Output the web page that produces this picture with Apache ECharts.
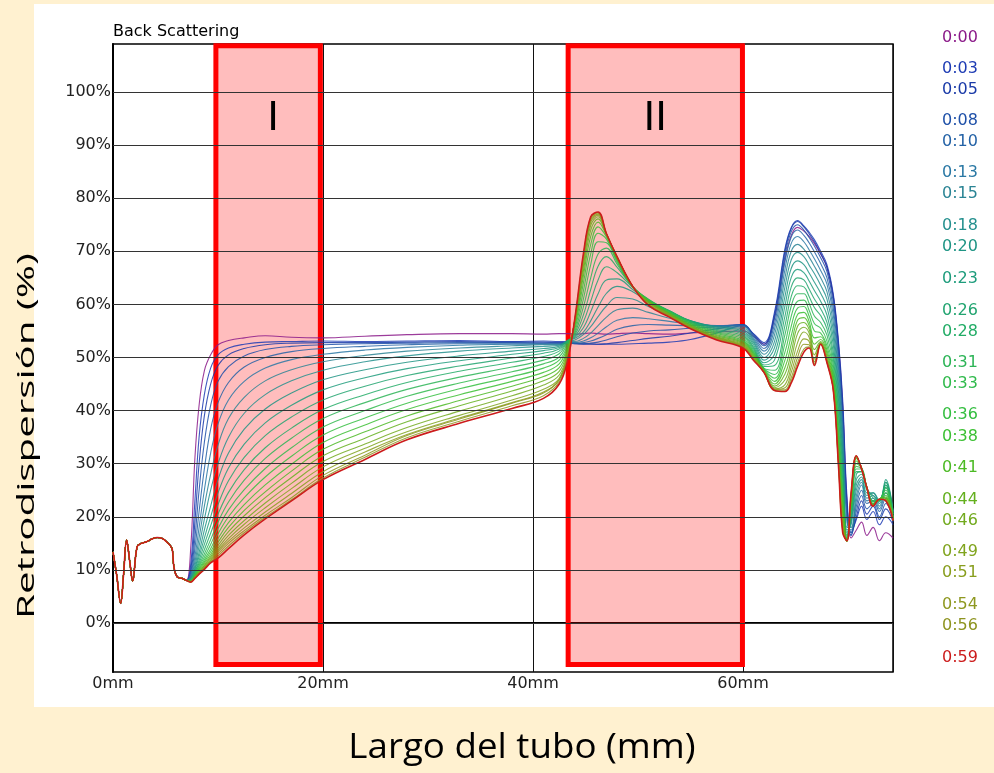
<!DOCTYPE html>
<html><head><meta charset="utf-8">
<script src="https://cdn.jsdelivr.net/npm/echarts@6/dist/echarts.min.js"></script>
<style>html,body{margin:0;padding:0;background:#FFF1D0;} #c{width:994px;height:773px;}</style>
</head><body><div id="c"></div>
<script>
// ---------- DATA ----------
const times = ['0:00','0:03','0:05','0:08','0:10','0:13','0:15','0:18','0:20','0:23','0:26','0:28',
               '0:31','0:33','0:36','0:38','0:41','0:44','0:46','0:49','0:51','0:54','0:56','0:59'];
const lineColors = ['#8B1A89','#1E3CB4','#1A3AA8','#1E50A8','#2462A6','#2A78A4','#2A8494','#24908E',
                    '#1E9484','#1E9C7C','#22A470','#22AC66','#2CB456','#30BA4C','#34BE40','#3CC034',
                    '#4CBA24','#64B01E','#72AA1E','#80A41E','#889E1E','#8E9820','#8E9420','#CC1C1C'];
// shared start of every profile (0 - 7 mm)
const baseX = [0, 0.35, 0.73, 1.0, 1.3, 1.6, 1.87, 2.3, 2.7, 3.2, 3.7, 4.2, 4.7, 5.1, 5.45, 5.65, 5.8, 6.1, 6.6, 7.0];
const baseY = [13.4, 9.0, 3.7, 9.0, 15.6, 11.5, 7.9, 14.4, 15.0, 15.3, 15.8, 16.1, 15.9, 15.3, 14.6, 13.8, 10.6, 8.7, 8.4, 8.0];
// sample positions (mm) of the three zones
const gridI = [7.4, 7.8, 8.2, 8.7, 9.3, 10, 11, 12.5, 14.5, 17, 20, 24, 28, 33, 38, 41, 42.5];
const gridII = [43.3, 44, 44.8, 45.5, 46.2, 47, 48, 49.5, 51, 53, 55, 57.5, 60];
const gridIII = [61, 62, 63, 64, 64.6, 65.2, 65.8, 66.3, 66.8, 67.4, 68, 68.6, 69.1, 69.5, 69.9, 70.3, 70.8, 71.3, 71.8, 72.4, 73, 73.6, 74.3];
// backscattering (%) per time, zone I
const frontI = [
 [14, 31, 41, 47.5, 50.5, 52.4, 53.2, 53.7, 54.1, 53.8, 53.7, 54.0, 54.3, 54.5, 54.5, 54.4, 54.5],
 [11, 23, 35, 43, 48, 50.5, 51.8, 52.5, 52.9, 53.0, 53.1, 53.0, 53.1, 53.2, 53.0, 53.1, 53.0],
 [10, 19, 30, 39, 45, 48.5, 50.5, 51.7, 52.4, 52.7, 52.8, 52.8, 52.9, 53.0, 52.9, 52.9, 52.8],
 [9.5, 16, 25, 34, 41, 45.5, 48.3, 50.3, 51.5, 52.1, 52.4, 52.6, 52.7, 52.8, 52.8, 52.7, 52.7],
 [9, 14, 21, 29, 36.5, 41.5, 45.3, 48.2, 50.0, 51.1, 51.7, 52.1, 52.4, 52.6, 52.6, 52.6, 52.6],
 [8.8, 12.5, 18, 25, 32, 37.5, 42, 45.5, 48.0, 49.6, 50.6, 51.4, 51.9, 52.3, 52.5, 52.5, 52.5],
 [8.6, 11.5, 16, 22, 28, 33.5, 38.5, 42.5, 45.6, 47.7, 49.2, 50.4, 51.2, 51.8, 52.2, 52.4, 52.4],
 [8.5, 10.8, 14.5, 19.5, 25, 30, 35, 39.5, 43.0, 45.6, 47.6, 49.2, 50.3, 51.2, 51.8, 52.1, 52.3],
 [8.4, 10.3, 13.3, 17.5, 22, 27, 32, 36.5, 40.3, 43.3, 45.8, 47.7, 49.1, 50.3, 51.2, 51.7, 52.1],
 [8.3, 10, 12.5, 16, 20, 24.5, 29.2, 33.7, 37.7, 41.0, 43.9, 46.2, 47.9, 49.4, 50.6, 51.3, 51.9],
 [8.2, 9.7, 11.8, 14.8, 18.3, 22.3, 26.8, 31.2, 35.3, 38.8, 42.0, 44.6, 46.6, 48.4, 49.9, 50.8, 51.6],
 [8.1, 9.5, 11.3, 13.8, 16.9, 20.5, 24.6, 28.9, 33.0, 36.7, 40.2, 43.0, 45.3, 47.4, 49.1, 50.2, 51.2],
 [8.0, 9.3, 10.9, 13.0, 15.7, 19.0, 22.8, 26.9, 31.0, 34.8, 38.5, 41.5, 44.0, 46.3, 48.2, 49.5, 50.7],
 [8.0, 9.1, 10.6, 12.4, 14.8, 17.8, 21.3, 25.1, 29.1, 33.0, 36.9, 40.0, 42.7, 45.2, 47.3, 48.8, 50.1],
 [7.9, 9.0, 10.3, 11.9, 14.0, 16.8, 20.0, 23.6, 27.5, 31.4, 35.4, 38.6, 41.4, 44.1, 46.4, 48.0, 49.5],
 [7.9, 8.9, 10.1, 11.5, 13.4, 15.9, 18.9, 22.3, 26.0, 29.9, 34.0, 37.3, 40.2, 43.0, 45.5, 47.2, 48.8],
 [7.9, 8.8, 9.9, 11.2, 12.9, 15.2, 18.0, 21.2, 24.7, 28.6, 32.7, 36.0, 39.0, 41.9, 44.6, 46.4, 48.1],
 [7.8, 8.7, 9.7, 10.9, 12.5, 14.6, 17.2, 20.2, 23.6, 27.4, 31.5, 34.8, 37.9, 40.9, 43.7, 45.6, 47.4],
 [7.8, 8.6, 9.6, 10.7, 12.2, 14.1, 16.5, 19.3, 22.6, 26.3, 30.4, 33.7, 36.8, 39.9, 42.8, 44.8, 46.7],
 [7.8, 8.6, 9.5, 10.5, 11.9, 13.7, 15.9, 18.6, 21.7, 25.3, 29.4, 32.9, 36.0, 39.1, 42.0, 44.0, 46.1],
 [7.8, 8.5, 9.4, 10.4, 11.7, 13.4, 15.4, 17.9, 20.9, 24.4, 28.5, 32.2, 35.5, 38.6, 41.5, 43.5, 45.8],
 [7.7, 8.5, 9.3, 10.3, 11.5, 13.0, 15.0, 17.4, 20.3, 23.6, 27.8, 31.6, 35.3, 38.4, 41.4, 43.3, 45.8],
 [7.7, 8.4, 9.2, 10.2, 11.4, 12.6, 14.5, 17.0, 19.9, 23.2, 27.3, 31.2, 34.9, 38.0, 40.9, 42.8, 45.4],
 [7.7, 8.4, 9.2, 10.1, 11.3, 12.2, 14.0, 16.6, 19.6, 23.0, 27.0, 30.8, 34.5, 37.6, 40.4, 42.3, 45.0]
];
// zone II
const peakII = [
 [54.5, 54.4, 54.5, 54.6, 54.5, 54.4, 54.5, 54.6, 54.5, 54.4, 54.6, 54.8, 55.0],
 [53.0, 52.7, 52.6, 52.6, 52.5, 52.5, 52.5, 52.6, 52.7, 52.9, 53.4, 54.6, 56.0],
 [52.8, 52.6, 52.5, 52.5, 52.5, 52.6, 52.8, 53.2, 53.6, 54.0, 54.6, 55.4, 56.2],
 [52.8, 52.6, 52.6, 52.7, 52.9, 53.3, 53.9, 54.6, 55.0, 55.2, 55.5, 55.8, 56.2],
 [52.8, 52.7, 52.8, 53.1, 53.6, 54.3, 55.3, 56.0, 56.2, 56.1, 56.0, 56.0, 56.1],
 [52.9, 52.8, 53.1, 53.7, 54.6, 55.8, 57.0, 57.5, 57.3, 56.8, 56.3, 56.0, 55.9],
 [53.0, 53.0, 53.6, 54.6, 56.0, 57.6, 59.0, 59.3, 58.5, 57.4, 56.6, 55.9, 55.6],
 [53.1, 53.3, 54.3, 55.8, 57.7, 59.7, 61.3, 61.0, 59.6, 58.0, 56.8, 55.8, 55.3],
 [53.2, 53.6, 54.8, 56.9, 59.5, 62.1, 63.4, 62.4, 60.4, 58.4, 56.9, 55.7, 55.0],
 [53.2, 53.8, 55.6, 58.6, 62.0, 64.6, 64.8, 62.8, 60.6, 58.7, 56.9, 55.5, 54.7],
 [53.2, 54.0, 56.7, 60.6, 64.6, 67.1, 66.0, 63.2, 60.7, 58.8, 56.9, 55.3, 54.4],
 [53.1, 54.3, 58.0, 62.8, 67.2, 69.0, 67.0, 63.3, 60.9, 58.8, 56.8, 55.1, 54.1],
 [53.0, 54.6, 59.5, 65.0, 69.5, 70.6, 67.6, 63.3, 61.0, 58.7, 56.7, 54.9, 53.8],
 [52.7, 55.0, 61.0, 67.5, 71.8, 71.6, 68.0, 63.3, 60.9, 58.6, 56.5, 54.7, 53.5],
 [52.3, 55.5, 62.5, 69.5, 73.4, 72.3, 68.3, 63.3, 60.8, 58.5, 56.4, 54.5, 53.2],
 [52.0, 56.0, 64.0, 71.3, 74.6, 72.7, 68.5, 63.3, 60.7, 58.4, 56.2, 54.3, 53.0],
 [51.6, 56.4, 65.3, 72.8, 75.5, 73.0, 68.7, 63.3, 60.6, 58.3, 56.1, 54.1, 52.8],
 [51.3, 56.7, 66.3, 74.0, 76.1, 73.1, 68.8, 63.3, 60.5, 58.2, 56.0, 53.9, 52.6],
 [51.0, 56.9, 67.2, 74.9, 76.5, 73.2, 68.9, 63.4, 60.4, 58.1, 55.9, 53.8, 52.4],
 [50.7, 57.1, 67.9, 75.5, 76.8, 73.2, 68.9, 63.4, 60.3, 58.0, 55.8, 53.7, 52.2],
 [50.4, 57.2, 68.5, 75.9, 77.0, 73.2, 69.0, 63.4, 60.1, 57.9, 55.7, 53.6, 52.1],
 [50.1, 57.3, 68.9, 76.2, 77.2, 73.3, 69.0, 63.4, 60.0, 57.8, 55.6, 53.5, 52.0],
 [49.8, 57.4, 69.2, 76.4, 77.3, 73.3, 69.0, 63.4, 59.9, 57.7, 55.5, 53.4, 51.9],
 [49.5, 57.5, 69.5, 76.5, 77.4, 73.3, 69.0, 63.4, 59.8, 57.6, 55.4, 53.3, 51.8]
];
// zone III (tube top)
const tailIII = [
 [54.0, 52.5, 57.5, 68.5, 73.0, 74.5, 73.8, 72.8, 71.5, 69.5, 67.0, 61.5, 52.5, 41.0, 23.0, 16.0, 17.5, 19.0, 16.5, 18.0, 15.5, 17.0, 16.0],
 [54.5, 52.8, 58.5, 70.5, 74.5, 75.8, 74.8, 73.6, 72.2, 70.0, 67.5, 62.0, 53.0, 42.0, 24.0, 17.0, 19.5, 22.0, 19.5, 21.0, 18.5, 20.0, 18.5],
 [54.4, 52.5, 58.0, 70.0, 74.3, 75.6, 74.6, 73.3, 71.8, 69.6, 67.0, 61.5, 52.0, 40.5, 22.5, 16.5, 20.0, 23.0, 20.5, 22.0, 19.5, 21.5, 19.0],
 [54.2, 52.2, 57.3, 69.2, 73.7, 75.0, 74.0, 72.6, 71.0, 68.8, 66.2, 60.5, 50.8, 39.0, 21.0, 16.5, 21.0, 24.0, 21.5, 22.5, 20.0, 22.5, 19.5],
 [54.0, 51.7, 56.3, 68.0, 72.7, 74.0, 73.0, 71.6, 69.9, 67.7, 65.0, 59.3, 49.5, 37.5, 20.0, 17.0, 22.0, 25.0, 22.5, 23.0, 21.0, 23.5, 20.0],
 [53.7, 51.2, 55.3, 66.6, 71.5, 72.8, 71.8, 70.3, 68.6, 66.4, 63.8, 58.0, 48.0, 36.0, 19.0, 17.5, 23.0, 26.0, 23.0, 23.5, 21.5, 24.5, 20.5],
 [53.4, 50.6, 54.2, 65.0, 70.0, 71.3, 70.4, 68.9, 67.2, 65.0, 62.4, 56.6, 46.5, 34.5, 18.0, 18.0, 24.0, 26.5, 23.5, 24.0, 22.0, 25.5, 21.0],
 [53.1, 50.0, 53.0, 63.3, 68.4, 69.8, 69.0, 67.4, 65.8, 63.6, 61.0, 55.2, 45.0, 33.0, 17.5, 18.5, 25.0, 27.0, 24.0, 24.5, 22.5, 26.0, 21.0],
 [52.8, 49.5, 51.8, 61.5, 66.8, 68.2, 67.5, 65.9, 64.2, 62.1, 59.5, 53.8, 43.5, 31.5, 17.0, 19.0, 26.0, 27.5, 24.5, 24.5, 23.0, 26.5, 21.0],
 [52.4, 49.0, 50.6, 59.7, 65.1, 66.6, 66.0, 64.4, 62.6, 60.6, 58.0, 52.4, 42.0, 30.0, 16.5, 19.5, 27.0, 28.0, 25.0, 24.0, 23.0, 27.0, 21.0],
 [52.0, 48.6, 49.5, 57.8, 63.3, 65.0, 64.6, 62.9, 61.0, 59.2, 56.6, 51.0, 40.5, 28.5, 16.0, 20.0, 28.0, 28.5, 25.5, 23.5, 23.0, 26.5, 20.5],
 [51.7, 48.3, 48.5, 56.0, 61.5, 63.5, 63.3, 61.5, 59.4, 57.9, 55.4, 49.8, 39.0, 27.0, 15.8, 20.5, 28.5, 28.5, 25.5, 23.0, 23.0, 26.0, 20.5],
 [51.4, 48.0, 47.6, 54.3, 59.7, 62.0, 62.0, 60.2, 57.8, 56.6, 54.2, 48.6, 37.5, 25.5, 15.6, 21.0, 29.0, 29.0, 25.5, 23.0, 23.2, 25.5, 20.0],
 [51.1, 47.9, 46.8, 52.6, 57.8, 60.6, 60.8, 58.9, 56.4, 55.5, 53.1, 47.6, 36.0, 24.5, 15.5, 21.5, 29.5, 29.0, 25.5, 22.8, 23.2, 25.0, 20.0],
 [50.9, 47.8, 46.1, 51.0, 55.9, 59.3, 59.6, 57.8, 55.0, 54.6, 52.2, 46.8, 35.0, 23.5, 15.5, 22.0, 30.0, 29.2, 25.5, 22.5, 23.3, 24.5, 19.8],
 [50.7, 47.7, 45.5, 49.5, 54.1, 58.1, 58.5, 56.8, 53.7, 53.9, 51.4, 46.1, 34.0, 22.5, 15.5, 22.5, 30.5, 29.2, 25.5, 22.5, 23.3, 24.0, 19.7],
 [50.5, 47.6, 45.0, 48.1, 52.5, 57.0, 57.5, 56.0, 52.5, 53.4, 50.8, 45.5, 33.0, 21.5, 15.4, 23.0, 31.0, 29.2, 25.5, 22.3, 23.3, 23.7, 19.6],
 [50.3, 47.5, 44.6, 46.9, 51.0, 55.9, 56.6, 55.3, 51.5, 53.0, 50.2, 45.0, 32.0, 20.5, 15.4, 23.3, 31.2, 29.2, 25.5, 22.2, 23.3, 23.5, 19.5],
 [50.1, 47.4, 44.3, 45.8, 49.6, 54.5, 55.7, 54.6, 50.5, 52.8, 49.8, 44.6, 31.2, 19.5, 15.4, 23.6, 31.3, 29.2, 25.5, 22.1, 23.3, 23.3, 19.5],
 [49.9, 47.3, 44.1, 44.9, 48.3, 52.8, 54.8, 53.8, 49.7, 52.7, 49.5, 44.3, 30.5, 18.7, 15.4, 23.9, 31.4, 29.1, 25.5, 22.0, 23.3, 23.2, 19.4],
 [49.8, 47.3, 44.0, 44.3, 47.2, 51.2, 53.5, 53.0, 49.2, 52.6, 49.3, 44.1, 30.2, 18.0, 15.4, 24.1, 31.4, 29.1, 25.5, 22.0, 23.3, 23.1, 19.4],
 [49.7, 47.2, 43.9, 43.9, 46.2, 50.0, 52.5, 52.4, 48.9, 52.6, 49.2, 44.0, 29.9, 17.5, 15.4, 24.3, 31.5, 29.0, 25.5, 22.0, 23.3, 23.1, 19.3],
 [49.6, 47.2, 43.8, 43.7, 45.6, 49.0, 51.6, 52.0, 48.7, 52.5, 49.1, 44.0, 29.7, 17.2, 15.5, 24.4, 31.5, 29.0, 25.5, 22.0, 23.3, 23.0, 19.3],
 [49.5, 47.2, 43.8, 43.6, 45.2, 48.3, 51.0, 51.8, 48.5, 52.5, 49.0, 43.9, 29.5, 17.0, 15.5, 24.5, 31.5, 29.0, 25.5, 22.0, 23.3, 23.0, 19.3]
];
const yTicks = [0, 10, 20, 30, 40, 50, 60, 70, 80, 90, 100];
const xTicks = [0, 20, 40, 60];
const zoneNames = ['I', 'II'];
const zoneFrom = [9.8, 43.35];
const zoneTo = [19.75, 59.95];

// ---------- LAYOUT ----------
const legendTop = [37.5, 69, 90, 121, 142, 173, 194, 226, 247, 279, 311, 332, 363, 384, 415, 437, 468, 499.5, 521, 552, 573, 605, 626, 657.5];
const Y_MIN = -9.23, Y_MAX = 109.04, X_MAX = 74.29;
const ZONE_TOP = 108.7, ZONE_BOTTOM = -7.8;

const chart = echarts.init(document.getElementById('c'), null, {renderer: 'canvas'});
const xs = baseX.concat(gridI, gridII, gridIII);

const curveSeries = times.map((t, k) => {
  const ys = baseY.concat(frontI[k], peakII[k], tailIII[k]);
  return {
    name: t, type: 'line', symbol: 'none', showSymbol: false, silent: true,
    smooth: 0.4, z: 2,
    lineStyle: {color: lineColors[k], width: k === 23 ? 1.6 : 1.1, opacity: k === 23 ? 1 : 0.85},
    data: xs.map((x, i) => [x, ys[i]])
  };
});

const gridLineSeries = {
  type: 'line', data: [], silent: true, z: 1,
  markLine: {
    symbol: 'none', silent: true, animation: false, label: {show: false},
    lineStyle: {color: '#333', width: 1, type: 'solid'},
    data: yTicks.map(v => ({yAxis: v}))
  }
};

const zoneSeries = {
  type: 'line', data: [], silent: true, z: 10,
  markArea: {
    silent: true,
    itemStyle: {color: 'rgba(255,0,0,0.26)', borderColor: '#FF0000', borderWidth: 5},
    label: {show: true, position: 'insideTop', distance: 54, color: '#000', fontSize: 42,
            fontFamily: 'Liberation Sans'},
    data: zoneNames.map((n, i) => [
      {name: n, xAxis: zoneFrom[i], yAxis: ZONE_TOP, label: i === 0 ? {offset: [5, 0]} : {}},
      {xAxis: zoneTo[i], yAxis: ZONE_BOTTOM}
    ])
  }
};

const graphics = [
  {type: 'rect', z: -100, silent: true, shape: {x: 34, y: 4, width: 960, height: 703}, style: {fill: '#fff'}},
  {type: 'text', x: 27, y: 436, rotation: Math.PI / 2, scaleX: 1.75, scaleY: 1.05, silent: true,
   style: {text: 'Retrodispersión (%)', fill: '#000', font: '23px "Open Sans"',
           align: 'center', verticalAlign: 'middle', textAlign: 'center', textVerticalAlign: 'middle'}},
  {type: 'text', x: 522, y: 748, scaleX: 1.08, scaleY: 1, silent: true,
   style: {text: 'Largo del tubo (mm)', fill: '#000', font: '34px "Open Sans"',
           align: 'center', verticalAlign: 'middle', textAlign: 'center', textVerticalAlign: 'middle'}}
].concat(times.map((t, k) => ({
  type: 'text', x: 942, y: legendTop[k], silent: true,
  style: {text: t, fill: lineColors[k], font: '16px "DejaVu Sans"',
          align: 'left', verticalAlign: 'middle', textAlign: 'left', textVerticalAlign: 'middle'}
})));

chart.setOption({
  animation: false,
  backgroundColor: '#FFF1D0',
  title: {text: 'Back Scattering', left: 113, top: 24, padding: 0,
          textStyle: {fontFamily: 'DejaVu Sans', fontSize: 16, fontWeight: 'normal', color: '#000'}},
  grid: {left: 113, right: 101, top: 44, bottom: 101, show: true, borderColor: '#000', borderWidth: 1.5,
         backgroundColor: 'transparent'},
  xAxis: {
    type: 'value', min: 0, max: X_MAX, interval: 20,
    axisLine: {show: true, lineStyle: {color: '#000', width: 2}},
    axisTick: {show: false},
    axisLabel: {formatter: v => v + 'mm', showMaxLabel: false, color: '#222', fontFamily: 'DejaVu Sans',
                fontSize: 16, margin: 4},
    splitLine: {show: true, lineStyle: {color: '#111', width: 1}}
  },
  yAxis: {
    type: 'value', min: Y_MIN, max: Y_MAX,
    axisLine: {show: true, lineStyle: {color: '#000', width: 2}},
    axisTick: {show: false, customValues: yTicks},
    splitLine: {show: false},
    axisLabel: {customValues: yTicks, formatter: v => v + '%', color: '#222', fontFamily: 'DejaVu Sans',
                fontSize: 16, margin: 2, verticalAlign: 'middle', padding: [0, 0, 10, 0]}
  },
  graphic: graphics,
  series: [gridLineSeries].concat(curveSeries, [zoneSeries])
});
</script></body></html>
